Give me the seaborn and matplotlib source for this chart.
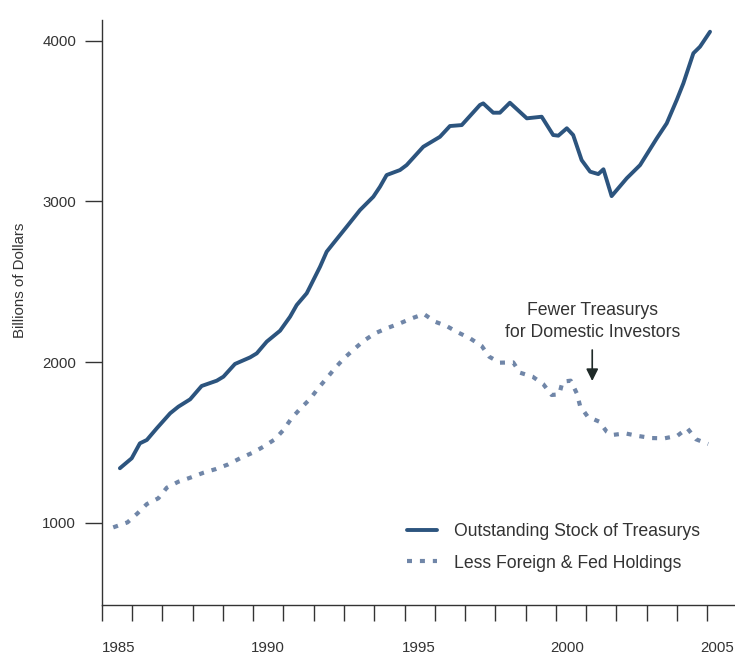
import matplotlib
matplotlib.use("Agg")
import matplotlib.pyplot as plt
from matplotlib.lines import Line2D
from matplotlib.ticker import FixedLocator, FixedFormatter, NullFormatter
import pandas as pd
import seaborn as sns

# ---------------- data ----------------
stock_years = [1985.60, 1985.99, 1986.26, 1986.49, 1986.82, 1987.26, 1987.53, 1987.92,
               1988.30, 1988.80, 1989.02, 1989.40, 1989.90, 1990.12, 1990.45, 1990.89,
               1991.22, 1991.44, 1991.77, 1991.88, 1992.21, 1992.43, 1992.65, 1993.09,
               1993.53, 1993.97, 1994.19, 1994.41, 1994.85, 1995.07, 1995.62, 1996.17,
               1996.50, 1996.89, 1997.49, 1997.60, 1997.93, 1998.15, 1998.48, 1999.04,
               1999.53, 1999.91, 2000.08, 2000.36, 2000.57, 2000.85, 2001.13, 2001.40,
               2001.57, 2001.84, 2002.34, 2002.78, 2003.33, 2003.66, 2003.99, 2004.21,
               2004.54, 2004.76, 2005.09]
stock_values = [1339, 1401, 1494, 1515, 1588, 1681, 1722, 1768,
                1851, 1884, 1909, 1988, 2029, 2054, 2127, 2195,
                2282, 2355, 2428, 2469, 2593, 2687, 2739, 2842,
                2946, 3029, 3091, 3164, 3195, 3226, 3340, 3402,
                3469, 3475, 3600, 3610, 3552, 3552, 3614, 3517,
                3527, 3413, 3409, 3455, 3413, 3257, 3185, 3170,
                3200, 3033, 3144, 3226, 3392, 3486, 3631, 3735,
                3922, 3963, 4056]

domestic_years = [1985.38, 1985.85, 1986.18, 1986.49, 1986.87, 1987.15, 1987.53, 1987.92,
                  1988.36, 1988.77, 1989.18, 1989.57, 1989.99, 1990.34, 1990.72, 1991.00,
                  1991.27, 1991.57, 1991.88, 1992.15, 1992.43, 1992.70, 1993.00, 1993.34,
                  1993.66, 1994.03, 1994.41, 1994.85, 1995.24, 1995.64, 1996.01, 1996.39,
                  1996.78, 1997.16, 1997.55, 1997.80, 1998.15, 1998.59, 1998.81, 1999.23,
                  1999.58, 1999.86, 2000.11, 2000.22, 2000.49, 2000.69, 2000.80, 2001.05,
                  2001.43, 2001.68, 2001.86, 2002.29, 2002.71, 2003.16, 2003.58, 2004.01,
                  2004.34, 2004.63, 2005.03]
domestic_values = [971, 1002, 1058, 1116, 1152, 1218, 1255, 1280,
                   1311, 1334, 1363, 1401, 1436, 1473, 1519, 1577,
                   1650, 1712, 1770, 1837, 1899, 1961, 2023, 2081,
                   2133, 2179, 2210, 2241, 2272, 2299, 2251, 2224,
                   2183, 2148, 2100, 2033, 1996, 1998, 1934, 1909,
                   1863, 1795, 1799, 1878, 1884, 1805, 1726, 1660,
                   1629, 1566, 1546, 1556, 1540, 1527, 1525, 1541,
                   1588, 1519, 1490]

series_names = ["Outstanding Stock of Treasurys", "Less Foreign & Fed Holdings"]
y_ticks = [1000, 2000, 3000, 4000]
x_tick_years = list(range(1985, 2006))
x_label_text = ["1985", "1990", "1995", "2000", "2005"]
x_label_pos = [1985.545, 1990.499, 1995.469, 2000.377, 2005.337]
annotation_lines = ["Fewer Treasurys", "for Domestic Investors"]

# ---------------- style ----------------
sns.set_theme(style="white")
plt.rcParams["font.family"] = ["Liberation Sans", "DejaVu Sans"]

DARK = "#2c547e"
LIGHT = "#7086a8"
INK = "#333333"

fig = plt.figure(figsize=(7.35, 6.56), dpi=100)
ax = fig.add_axes([0.1384, 0.0782, 0.8616, 0.8913])

df_stock = pd.DataFrame({"year": stock_years, "value": stock_values})
df_dom = pd.DataFrame({"year": domestic_years, "value": domestic_values})

sns.lineplot(data=df_stock, x="year", y="value", ax=ax, color=DARK,
             linewidth=2.8, legend=False)
sns.lineplot(data=df_dom, x="year", y="value", ax=ax, color=LIGHT,
             linewidth=3.0, linestyle=(0, (1.2, 1.9)), legend=False)

ax.set_xlim(1985.0, 2005.915)
ax.set_ylim(489.6, 4129)

# spines
for s in ["top", "right"]:
    ax.spines[s].set_visible(False)
for s in ["left", "bottom"]:
    ax.spines[s].set_color(INK)
    ax.spines[s].set_linewidth(1.0)

# y ticks
ax.set_yticks(y_ticks)
ax.set_yticklabels([str(v) for v in y_ticks])
ax.tick_params(axis="y", which="major", direction="out", length=12, width=1.0,
               color=INK, labelcolor=INK, labelsize=10.8, pad=6.5, left=True)

# x ticks: marks at every year, labels in between
ax.xaxis.set_major_locator(FixedLocator(x_tick_years))
ax.xaxis.set_major_formatter(NullFormatter())
ax.xaxis.set_minor_locator(FixedLocator(x_label_pos))
ax.xaxis.set_minor_formatter(FixedFormatter(x_label_text))
ax.tick_params(axis="x", which="major", direction="out", length=11.5, width=1.0,
               color=INK, bottom=True)
ax.tick_params(axis="x", which="minor", length=0, labelsize=10.8,
               labelcolor=INK, pad=26, bottom=True)

ax.set_xlabel("")
ax.set_ylabel("Billions of Dollars", fontsize=10.8, color=INK)
ax.yaxis.set_label_coords(-0.1187, 0.555)

# annotation
ax.text(2001.2, 2319, annotation_lines[0], ha="center", va="center",
        fontsize=12.7, color=INK)
ax.text(2001.2, 2181, annotation_lines[1], ha="center", va="center",
        fontsize=12.7, color=INK)
ax.annotate("", xy=(2001.2, 1882), xytext=(2001.2, 2075),
            arrowprops=dict(arrowstyle="-|>,head_length=0.6,head_width=0.3",
                            color="#1f2a28", lw=1.2, shrinkA=0, shrinkB=0))

# legend
handles = [Line2D([0], [0], color=DARK, linewidth=2.8),
           Line2D([0], [0], color=LIGHT, linewidth=3.0, linestyle=(0, (1.2, 1.9)))]
fig.legend(handles, series_names, loc="center left",
           bbox_to_anchor=(0.5533, 0.1656), frameon=False, fontsize=12.7,
           handlelength=1.7, handletextpad=1.0, labelspacing=0.82,
           borderpad=0, borderaxespad=0, labelcolor=INK)

fig.savefig("out.png", dpi=100)
